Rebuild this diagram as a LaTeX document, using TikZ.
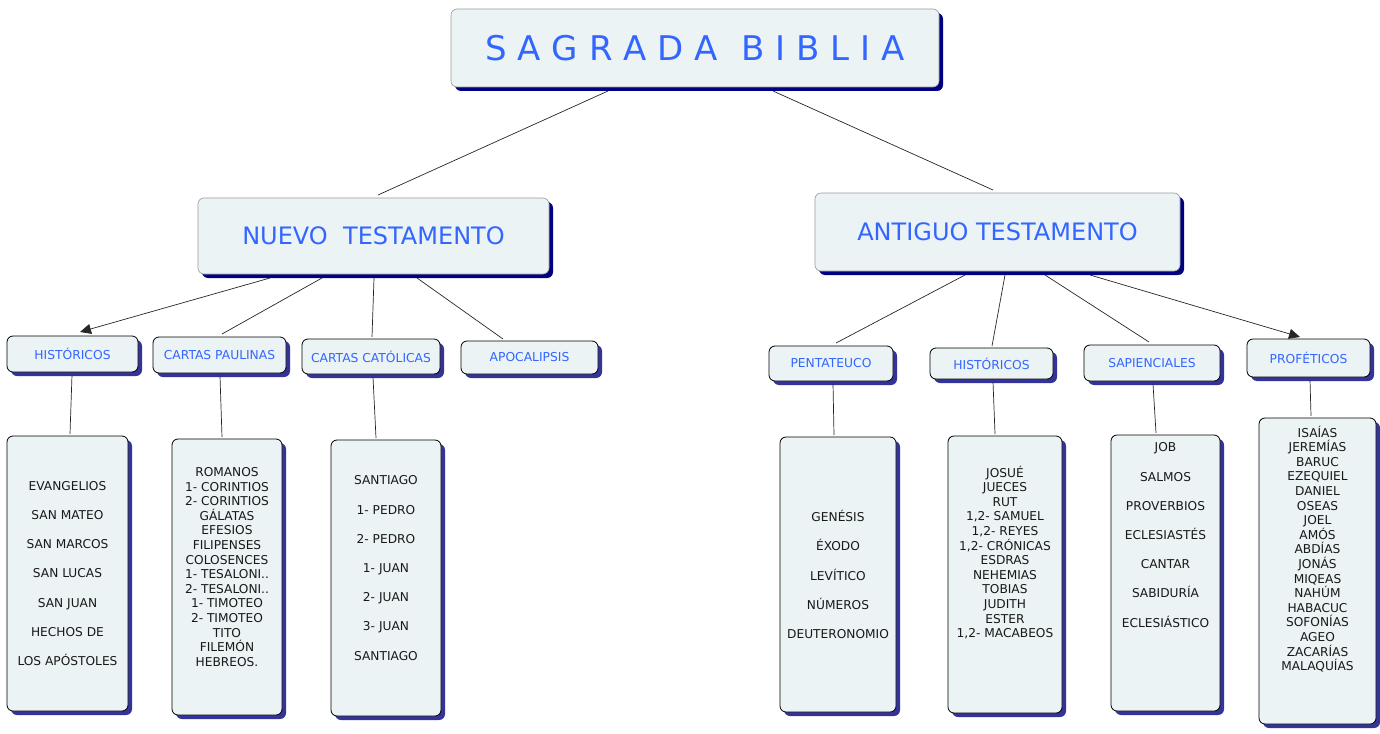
\documentclass[tikz,border=0pt]{standalone}
\usepackage{fontspec}
\setmainfont{DejaVu Sans}
\usetikzlibrary{shadows,calc,arrows.meta}
\definecolor{boxfill}{HTML}{EBF3F5}
\definecolor{navyshade}{HTML}{000080}
\definecolor{boxshade}{HTML}{333399}
\definecolor{ttl}{HTML}{3366FF}
\definecolor{bord}{HTML}{999999}
\newcommand\liftlist[2]{\raisebox{#1}[\height][\depth]{\parbox{106pt}{\centering #2}}}
\newcommand\gp{\\[14.6pt]}
\begin{document}
\begin{tikzpicture}[x=1pt,y=-1pt,
 base/.style={rectangle, rounded corners=6pt, fill=boxfill, inner sep=0pt, outer sep=0pt, align=center},
 sz/.style 2 args={minimum width=#1pt, minimum height=#2pt},
 titlebox/.style={base, draw=bord, line width=0.6pt, text=ttl, font=\fontsize{24}{28}\selectfont,
   drop shadow={shadow xshift=4pt, shadow yshift=-4pt, fill=navyshade, opacity=1}},
 labelbox/.style={base, draw=black, line width=0.8pt, text=ttl, font=\fontsize{12.3}{14.6}\selectfont,
   drop shadow={shadow xshift=4pt, shadow yshift=-4pt, fill=boxshade, opacity=1}},
 listbox/.style={labelbox, text=black!90, font=\fontsize{12.2}{14.6}\selectfont},
 link/.style={line width=0.7pt, draw=black!85},
 arr/.style={link, -{Triangle[length=11pt,width=10pt]}}
]
\useasboundingbox (0,0) rectangle (1380,733);

% top level
\node[titlebox, sz={488}{78}, font=\fontsize{34}{38}\selectfont] (sb) at (695,48) {S A G R A D A\hspace{13pt} B I B L I A};
\node[titlebox, sz={351}{76}] (nt) at (373.5,236) {NUEVO\ \ TESTAMENTO};
\node[titlebox, sz={365}{78}] (at) at (997.5,232) {ANTIGUO TESTAMENTO};

% second level (NT)
\node[labelbox, sz={131}{36}] (h1) at (72.5,354) {HISTÓRICOS};
\node[labelbox, sz={133}{36}] (cp) at (219.5,355) {CARTAS PAULINAS};
\node[labelbox, sz={138}{35}] (cc) at (371,356.5) {CARTAS CATÓLICAS};
\node[labelbox, sz={137}{33}] (ap) at (529.5,357.5) {APOCALIPSIS};

% second level (AT)
\node[labelbox, sz={124}{35}] (pe) at (831,363.5) {PENTATEUCO};
\node[labelbox, sz={123}{31}] (h2) at (991.5,363.5) {HISTÓRICOS};
\node[labelbox, sz={136}{36}] (sa) at (1152,363) {SAPIENCIALES};
\node[labelbox, sz={123}{38}] (pr) at (1308.5,358) {PROFÉTICOS};

% lists
\node[listbox, sz={121}{275}] (l1) at (67.5,573.5) {\liftlist{0pt}{EVANGELIOS\gp SAN MATEO\gp SAN MARCOS\gp SAN LUCAS\gp SAN JUAN\gp HECHOS DE\gp LOS APÓSTOLES}};
\node[listbox, sz={110}{276}] (l2) at (227,577) {\liftlist{10pt}{ROMANOS\\1- CORINTIOS\\2- CORINTIOS\\GÁLATAS\\EFESIOS\\FILIPENSES\\COLOSENCES\\1- TESALONI..\\2- TESALONI..\\1- TIMOTEO\\2- TIMOTEO\\TITO\\FILEMÓN\\HEBREOS.}};
\node[listbox, sz={110}{276}] (l3) at (386,578) {\liftlist{10pt}{SANTIAGO\gp 1- PEDRO\gp 2- PEDRO\gp 1- JUAN\gp 2- JUAN\gp 3- JUAN\gp SANTIAGO}};
\node[listbox, sz={116}{275}] (l4) at (838,574.5) {\liftlist{0pt}{GENÉSIS\gp ÉXODO\gp LEVÍTICO\gp NÚMEROS\gp DEUTERONOMIO}};
\node[listbox, sz={114}{277}] (l5) at (1005,574.5) {\liftlist{22pt}{JOSUÉ\\JUECES\\RUT\\1,2- SAMUEL\\1,2- REYES\\1,2- CRÓNICAS\\ESDRAS\\NEHEMIAS\\TOBIAS\\JUDITH\\ESTER\\1,2- MACABEOS}};
\node[listbox, sz={109}{276}] (l6) at (1165.5,573) {\liftlist{38pt}{JOB\gp SALMOS\gp PROVERBIOS\gp ECLESIASTÉS\gp CANTAR\gp SABIDURÍA\gp ECLESIÁSTICO}};
\node[listbox, sz={117}{306}] (l7) at (1317.5,571) {\liftlist{22pt}{ISAÍAS\\JEREMÍAS\\BARUC\\EZEQUIEL\\DANIEL\\OSEAS\\JOEL\\AMÓS\\ABDÍAS\\JONÁS\\MIQEAS\\NAHÚM\\HABACUC\\SOFONÍAS\\AGEO\\ZACARÍAS\\MALAQUÍAS}};

% connectors
\draw[link] ($(sb)+(-87,43)$) -- ($(nt)+(4.5,-41)$);
\draw[link] ($(sb)+(78,43)$) -- ($(at)+(-4.5,-42)$);

\draw[arr]  ($(nt)+(-103.5,42)$) -- ($(h1)+(7.5,-22)$);
\draw[link] ($(nt)+(-51.5,42)$) -- ($(cp)+(2.5,-21)$);
\draw[link] ($(nt)+(0.5,42)$) -- ($(cc)+(1,-19.5)$);
\draw[link] ($(nt)+(43.5,42)$) -- ($(ap)+(-26.5,-18.5)$);

\draw[link] ($(at)+(-32.5,43)$) -- ($(pe)+(5,-20.5)$);
\draw[link] ($(at)+(7.5,43)$) -- ($(h2)+(0.5,-17.5)$);
\draw[link] ($(at)+(47.5,43)$) -- ($(sa)+(-3,-21)$);
\draw[arr]  ($(at)+(92.5,43)$) -- ($(pr)+(-8.5,-21)$);

\draw[link] ($(h1)+(-0.5,21)$) -- ($(l1)+(2.5,-139.5)$);
\draw[link] ($(cp)+(0.5,21)$) -- ($(l2)+(-5,-140)$);
\draw[link] ($(cc)+(2,20.5)$) -- ($(l3)+(-10,-140)$);
\draw[link] ($(pe)+(2,20.5)$) -- ($(l4)+(-4,-139.5)$);
\draw[link] ($(h2)+(1.5,18.5)$) -- ($(l5)+(-10,-140.5)$);
\draw[link] ($(sa)+(1,21)$) -- ($(l6)+(-9.5,-140)$);
\draw[link] ($(pr)+(1.5,22)$) -- ($(l7)+(-6.5,-155)$);
\end{tikzpicture}
\end{document}
